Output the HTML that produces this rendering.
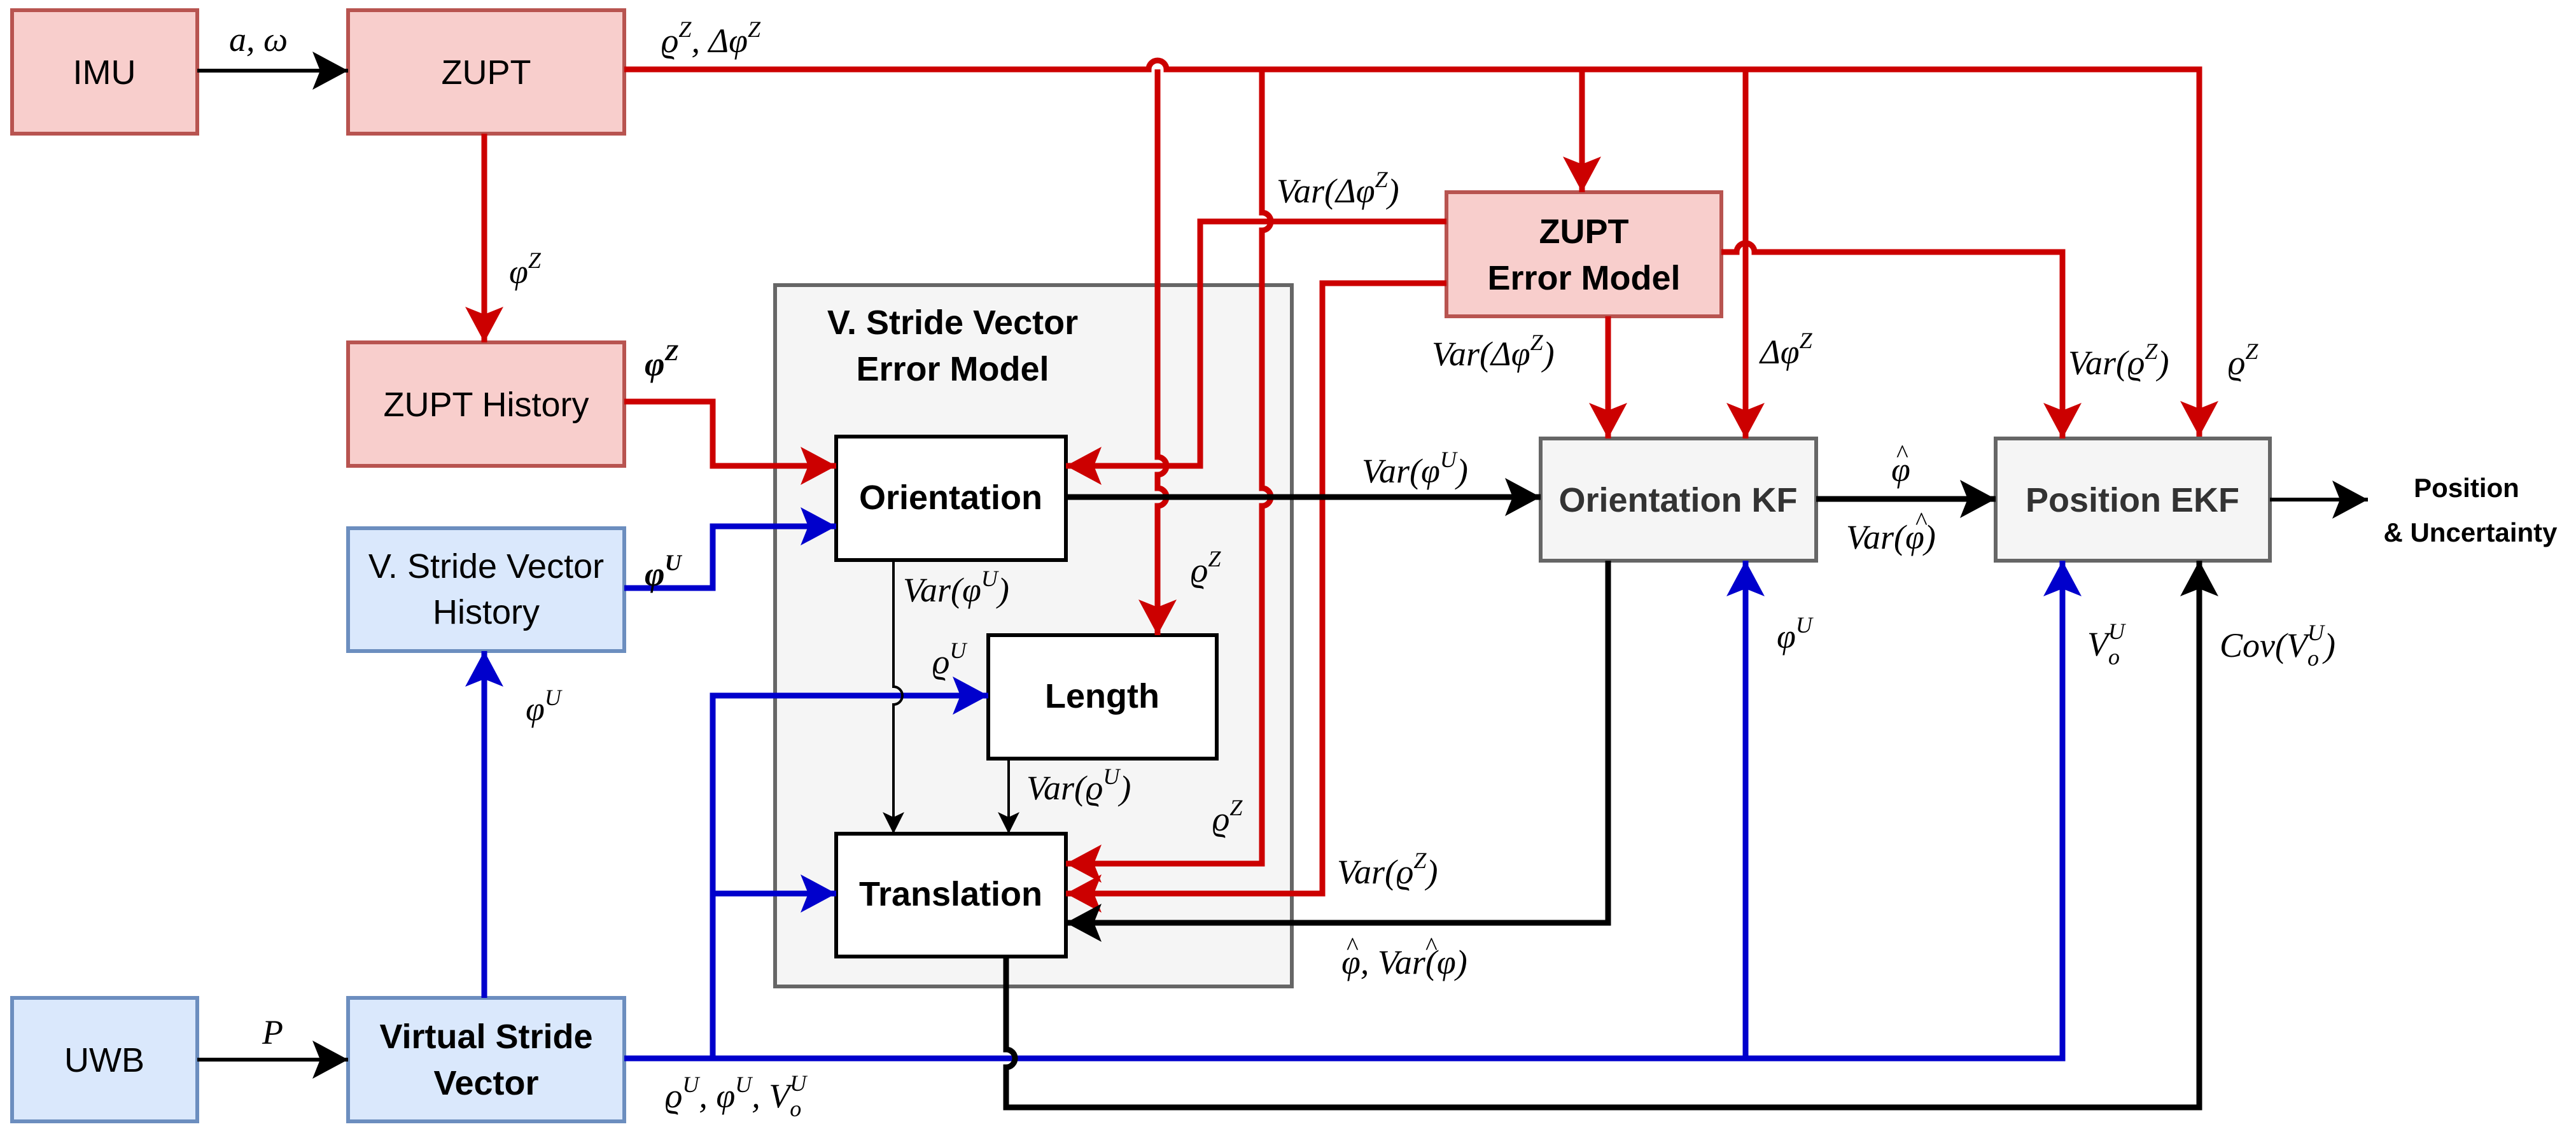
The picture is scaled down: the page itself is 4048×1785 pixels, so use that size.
<!DOCTYPE html>
<html><head><meta charset="utf-8"><style>
html,body{margin:0;padding:0;background:#fff;}
svg{display:block;}
.t{font-family:"Liberation Sans",Arial,sans-serif;font-size:54px;text-anchor:middle;}
.b{font-weight:bold;}
.m{font-family:"Liberation Serif",serif;font-style:italic;font-size:54px;}
.s{font-size:36px;}
.h{font-family:"Liberation Serif",serif;font-size:40px;font-style:normal;}
</style></head><body>
<svg width="4048" height="1785" viewBox="0 0 4048 1785" xmlns="http://www.w3.org/2000/svg">
<defs>
<marker id="ar" markerUnits="userSpaceOnUse" markerWidth="60" markerHeight="64" viewBox="-56 -32 60 64" refX="0" refY="0" orient="auto"><path d="M0,0 L-56,-30 L-44,0 L-56,30 Z" fill="#CC0000"/></marker>
<marker id="ab" markerUnits="userSpaceOnUse" markerWidth="60" markerHeight="64" viewBox="-56 -32 60 64" refX="0" refY="0" orient="auto"><path d="M0,0 L-56,-30 L-44,0 L-56,30 Z" fill="#0000CC"/></marker>
<marker id="ak" markerUnits="userSpaceOnUse" markerWidth="60" markerHeight="64" viewBox="-56 -32 60 64" refX="0" refY="0" orient="auto"><path d="M0,0 L-56,-30 L-44,0 L-56,30 Z" fill="#000"/></marker>
<marker id="aks" markerUnits="userSpaceOnUse" markerWidth="40" markerHeight="40" viewBox="-34 -20 36 40" refX="0" refY="0" orient="auto"><path d="M0,0 L-34,-17 L-26,0 L-34,17 Z" fill="#000"/></marker>
</defs>

<rect x="1218" y="448" width="812" height="1102" fill="#f5f5f5" stroke="#666" stroke-width="6"/>
<text class="t b" x="1497" y="525">V. Stride Vector</text>
<text class="t b" x="1497" y="598">Error Model</text>

<g stroke-width="6">
<rect x="19" y="16" width="291" height="194" fill="#f8cecc" stroke="#b85450"/>
<rect x="547" y="16" width="434" height="194" fill="#f8cecc" stroke="#b85450"/>
<rect x="547" y="538" width="434" height="194" fill="#f8cecc" stroke="#b85450"/>
<rect x="2273" y="302" width="432" height="195" fill="#f8cecc" stroke="#b85450"/>
<rect x="547" y="830" width="434" height="193" fill="#dae8fc" stroke="#6c8ebf"/>
<rect x="19" y="1568" width="291" height="194" fill="#dae8fc" stroke="#6c8ebf"/>
<rect x="547" y="1568" width="434" height="194" fill="#dae8fc" stroke="#6c8ebf"/>
<rect x="1314" y="686" width="361" height="194" fill="#fff" stroke="#000"/>
<rect x="1553" y="998" width="359" height="194" fill="#fff" stroke="#000"/>
<rect x="1314" y="1310" width="361" height="193" fill="#fff" stroke="#000"/>
<rect x="2421" y="689" width="433" height="192" fill="#f5f5f5" stroke="#666"/>
<rect x="3136" y="689" width="431" height="192" fill="#f5f5f5" stroke="#666"/>
</g>

<g fill="none" stroke="#CC0000" stroke-width="9">
<path d="M981,109 H1805 a14,14 0 0 1 28,0 H3456 V686" marker-end="url(#ar)"/>
<path d="M2486,109 V302" marker-end="url(#ar)"/>
<path d="M2743,109 V689" marker-end="url(#ar)"/>
<path d="M1983,109 V334 a14,14 0 0 1 0,28 V767 a14,14 0 0 1 0,28 V1357 H1675" marker-end="url(#ar)"/>
<path d="M1819,109 V718 a14,14 0 0 1 0,28 V767 a14,14 0 0 1 0,28 V998" marker-end="url(#ar)"/>
<path d="M2273,348 H1886 V732 H1675" marker-end="url(#ar)"/>
<path d="M2273,445 H2078 V1404 H1675" marker-end="url(#ar)"/>
<path d="M2527,497 V689" marker-end="url(#ar)"/>
<path d="M2705,396 H2729 a14,14 0 0 1 28,0 H3241 V689" marker-end="url(#ar)"/>
<path d="M761,210 V538" marker-end="url(#ar)"/>
<path d="M981,631 H1120 V732 H1314" marker-end="url(#ar)"/>
</g>

<g fill="none" stroke="#0000CC" stroke-width="9">
<path d="M981,924 H1120 V827 H1314" marker-end="url(#ab)"/>
<path d="M761,1568 V1023" marker-end="url(#ab)"/>
<path d="M981,1663 H3241 V881" marker-end="url(#ab)"/>
<path d="M2743,1663 V881" marker-end="url(#ab)"/>
<path d="M1120,1663 V1093 H1553" marker-end="url(#ab)"/>
<path d="M1120,1404 H1314" marker-end="url(#ab)"/>
</g>

<g fill="none" stroke="#000">
<path d="M310,111 H547" stroke-width="6" marker-end="url(#ak)"/>
<path d="M310,1665 H547" stroke-width="6" marker-end="url(#ak)"/>
<path d="M1675,781 H2421" stroke-width="9" marker-end="url(#ak)"/>
<path d="M2854,784 H3136" stroke-width="9" marker-end="url(#ak)"/>
<path d="M3567,785 H3721" stroke-width="6" marker-end="url(#ak)"/>
<path d="M1404,880 V1079 a14,14 0 0 1 0,28 V1310" stroke-width="4" marker-end="url(#aks)"/>
<path d="M1585,1192 V1310" stroke-width="4" marker-end="url(#aks)"/>
<path d="M2527,881 V1450 H1675" stroke-width="9" marker-end="url(#ak)"/>
<path d="M1581,1503 V1649 a14,14 0 0 1 0,28 V1740 H3456 V881" stroke-width="9" marker-end="url(#ak)"/>
</g>

<text class="t" x="164" y="132">IMU</text>
<text class="t" x="764" y="132">ZUPT</text>
<text class="t" x="764" y="654">ZUPT History</text>
<text class="t" x="764" y="908">V. Stride Vector</text>
<text class="t" x="764" y="980">History</text>
<text class="t" x="164" y="1684">UWB</text>
<text class="t b" x="764" y="1647">Virtual Stride</text>
<text class="t b" x="764" y="1720">Vector</text>
<text class="t b" x="1494" y="800">Orientation</text>
<text class="t b" x="1732" y="1112">Length</text>
<text class="t b" x="1494" y="1423">Translation</text>
<text class="t b" x="2489" y="382">ZUPT</text>
<text class="t b" x="2489" y="455">Error Model</text>
<text class="t b" x="2637" y="804" fill="#333">Orientation KF</text>
<text class="t b" x="3351" y="804" fill="#333">Position EKF</text>
<text class="t b" x="3876" y="781" style="font-size:42px">Position</text>
<text class="t b" x="3882" y="851" style="font-size:42px">&amp; Uncertainty</text>

<g class="m">
<text x="360" y="80">a, ω</text>
<text x="1039" y="82">ϱ<tspan class="s" dy="-24">Z</tspan><tspan dy="24">, Δφ</tspan><tspan class="s" dy="-24">Z</tspan></text>
<text x="800" y="445">φ<tspan class="s" dy="-24">Z</tspan></text>
<text x="1013" y="590" font-weight="bold">φ<tspan class="s" dy="-24">Z</tspan></text>
<text x="1013" y="920" font-weight="bold">φ<tspan class="s" dy="-24">U</tspan></text>
<text x="2006" y="318">Var(Δφ<tspan class="s" dy="-24">Z</tspan><tspan dy="24">)</tspan></text>
<text x="2250" y="574">Var(Δφ<tspan class="s" dy="-24">Z</tspan><tspan dy="24">)</tspan></text>
<text x="2766" y="571">Δφ<tspan class="s" dy="-24">Z</tspan></text>
<text x="3250" y="588">Var(ϱ<tspan class="s" dy="-24">Z</tspan><tspan dy="24">)</tspan></text>
<text x="3501" y="588">ϱ<tspan class="s" dy="-24">Z</tspan></text>
<text x="2140" y="758">Var(φ<tspan class="s" dy="-24">U</tspan><tspan dy="24">)</tspan></text>
<text x="2972" y="756">φ</text>
<text x="2901" y="862">Var(φ)</text>
<text x="1419" y="945">Var(φ<tspan class="s" dy="-24">U</tspan><tspan dy="24">)</tspan></text>
<text x="1871" y="914">ϱ<tspan class="s" dy="-24">Z</tspan></text>
<text x="1465" y="1058">ϱ<tspan class="s" dy="-24">U</tspan></text>
<text x="1613" y="1256">Var(ϱ<tspan class="s" dy="-24">U</tspan><tspan dy="24">)</tspan></text>
<text x="1905" y="1305">ϱ<tspan class="s" dy="-24">Z</tspan></text>
<text x="2101" y="1388">Var(ϱ<tspan class="s" dy="-24">Z</tspan><tspan dy="24">)</tspan></text>
<text x="2108" y="1530">φ, Var(φ)</text>
<text x="826" y="1132">φ<tspan class="s" dy="-24">U</tspan></text>
<text x="412" y="1640">P</text>
<text x="1045" y="1740">ϱ<tspan class="s" dy="-24">U</tspan><tspan dy="24">, φ</tspan><tspan class="s" dy="-24">U</tspan><tspan dy="24">, V</tspan><tspan class="s" dy="14">o</tspan><tspan class="s" dx="-18" dy="-40">U</tspan></text>
<text x="2792" y="1018">φ<tspan class="s" dy="-24">U</tspan></text>
<text x="3280" y="1030">V<tspan class="s" dy="14">o</tspan><tspan class="s" dx="-18" dy="-40">U</tspan></text>
<text x="3488" y="1032">Cov(V<tspan class="s" dy="14">o</tspan><tspan class="s" dx="-18" dy="-40">U</tspan><tspan dy="26">)</tspan></text>
</g>
<!-- hats -->
<g class="h">
<text x="2980" y="726">^</text>
<text x="3010" y="832">^</text>
<text x="2116" y="1500">^</text>
<text x="2240" y="1500">^</text>
</g>
</svg>
</body></html>
